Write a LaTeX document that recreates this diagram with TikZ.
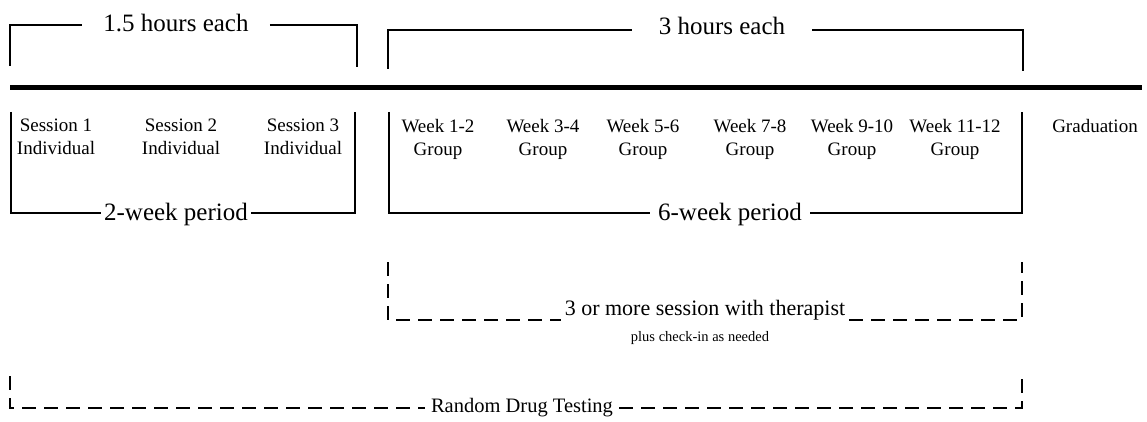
\documentclass[tikz,border=0pt]{standalone}
\usepackage{fontspec}
\setmainfont{Liberation Serif}
\begin{document}
\begin{tikzpicture}[x=1pt,y=-1pt,
  frame/.style={line width=2pt, line join=miter},
  dashframe/.style={line width=2pt, dash pattern=on 14pt off 8pt},
  bigrule/.style={line width=4.5pt},
  biglbl/.style={font=\fontsize{25}{30}\selectfont, inner ysep=0pt, anchor=base},
  cell/.style={font=\fontsize{19}{23}\selectfont, align=center, inner sep=0pt, anchor=north},
  note/.style={font=\fontsize{14.5}{17}\selectfont, inner sep=0pt, anchor=base}]
\useasboundingbox (0,0) rectangle (1147,422);

% ---- duration brackets above the rule ----
\node[biglbl, inner xsep=21pt] (h15) at (176,32) {1.5 hours each};
\coordinate (b1a) at (10,66);  \coordinate (b1b) at (10,25);
\coordinate (b1c) at (357,25); \coordinate (b1d) at (357,67);
\draw[frame] (b1a) -- (b1b) -- (b1b -| h15.west);
\draw[frame] (b1c -| h15.east) -- (b1c) -- (b1d);

\node[biglbl, inner xsep=27pt] (h3) at (722,35) {3 hours each};
\coordinate (b2a) at (388,69);  \coordinate (b2b) at (388,30);
\coordinate (b2c) at (1023,30); \coordinate (b2d) at (1023,71);
\draw[frame] (b2a) -- (b2b) -- (b2b -| h3.west);
\draw[frame] (b2c -| h3.east) -- (b2c) -- (b2d);

% ---- timeline rule ----
\coordinate (rl) at (10,87.5); \coordinate (rr) at (1142,87.5);
\draw[bigrule] (rl) -- (rr);

% ---- sessions and weeks ----
\node[cell] (s1) at (56,119) {Session 1\\Individual};
\node[cell] (s2) at (181,119) {Session 2\\Individual};
\node[cell] (s3) at (303,119) {Session 3\\Individual};
\node[cell] (w1) at (438,119) {Week 1-2\\Group};
\node[cell] (w2) at (543,119) {Week 3-4\\Group};
\node[cell] (w3) at (643,119) {Week 5-6\\Group};
\node[cell] (w4) at (750,119) {Week 7-8\\Group};
\node[cell] (w5) at (852,119) {Week 9-10\\Group};
\node[cell] (w6) at (955,119) {Week 11-12\\Group};
\node[cell] (gr) at (1095,119) {Graduation};

% ---- period brackets ----
\node[biglbl, inner xsep=3pt] (p2) at (176,220) {2-week period};
\coordinate (p1a) at (11,112);  \coordinate (p1b) at (11,213);
\coordinate (p1c) at (355,213); \coordinate (p1d) at (355,112);
\draw[frame] (p1a) -- (p1b) -- (p1b -| p2.west);
\draw[frame] (p1c -| p2.east) -- (p1c) -- (p1d);

\node[biglbl, inner xsep=8pt] (p6) at (730,220) {6-week period};
\coordinate (q1a) at (389,112);  \coordinate (q1b) at (389,213);
\coordinate (q1c) at (1022,213); \coordinate (q1d) at (1022,112);
\draw[frame] (q1a) -- (q1b) -- (q1b -| p6.west);
\draw[frame] (q1c -| p6.east) -- (q1c) -- (q1d);

% ---- therapist sessions ----
\node[font=\fontsize{22}{26}\selectfont, inner ysep=0pt, inner xsep=4pt, anchor=base] (th) at (705,315) {3 or more session with therapist};
\node[note] (pc) at (700,341) {plus check-in as needed};
\coordinate (t1a) at (388,262);  \coordinate (t1b) at (388,320);
\coordinate (t1c) at (1022,320); \coordinate (t1d) at (1022,262);
\draw[dashframe] (t1a) -- (t1b) -- (t1b -| th.west);
\draw[dashframe] (t1c -| th.east) -- (t1c) -- (t1d);

% ---- drug testing ----
\node[font=\fontsize{20.5}{24}\selectfont, inner ysep=0pt, inner xsep=6pt, anchor=base] (rd) at (522,412) {Random Drug Testing};
\coordinate (r1a) at (10,376);  \coordinate (r1b) at (10,408);
\coordinate (r1c) at (1022,408); \coordinate (r1d) at (1022,376);
\draw[dashframe] (r1a) -- (r1b) -- (r1b -| rd.west);
\draw[dashframe] (r1c -| rd.east) -- (r1c) -- (r1d);
\end{tikzpicture}
\end{document}
